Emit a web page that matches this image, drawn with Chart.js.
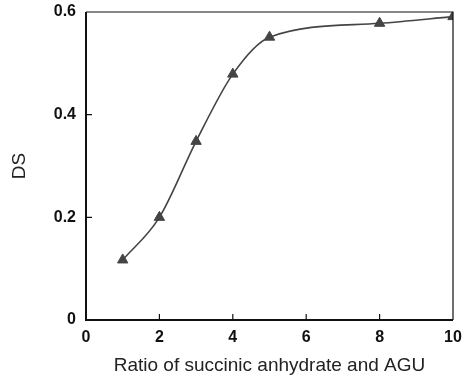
<!DOCTYPE html>
<html>
<head>
<meta charset="utf-8">
<script src="https://cdn.jsdelivr.net/npm/chart.js@4"></script>
<style>
  html, body { margin: 0; padding: 0; background: #fff; }
  #wrap { width: 467px; height: 377px; }
</style>
</head>
<body>
<div id="wrap"><canvas id="chart" width="467" height="377"></canvas></div>
<script>
// ratio of succinic anhydride to AGU vs degree of substitution
const ratios = [1, 2, 3, 4, 5, 8, 10];
const dsValues = [0.117, 0.2, 0.348, 0.479, 0.551, 0.578, 0.591];
const xTicks = [0, 2, 4, 6, 8, 10];
const yTicks = [0, 0.2, 0.4, 0.6];

const ink = '#111';
const markColor = '#444';

// frame + inward tick marks
const framePlugin = {
    id: 'frame',
    afterDraw(chart) {
        const { ctx, chartArea: a, scales } = chart;
        ctx.save();
        ctx.strokeStyle = ink;
        // top & right thin
        ctx.lineWidth = 1.2;
        ctx.beginPath();
        ctx.moveTo(a.left, a.top);
        ctx.lineTo(a.right, a.top);
        ctx.lineTo(a.right, a.bottom);
        ctx.stroke();
        // left & bottom heavier
        ctx.lineWidth = 2;
        ctx.beginPath();
        ctx.moveTo(a.left, a.top);
        ctx.lineTo(a.left, a.bottom);
        ctx.lineTo(a.right, a.bottom);
        ctx.stroke();
        // ticks pointing into the plot
        ctx.lineWidth = 1.2;
        ctx.beginPath();
        xTicks.slice(1, -1).forEach(v => {
            const px = scales.x.getPixelForValue(v);
            ctx.moveTo(px, a.bottom);
            ctx.lineTo(px, a.bottom - 6);
        });
        yTicks.slice(1, -1).forEach(v => {
            const py = scales.y.getPixelForValue(v);
            ctx.moveTo(a.left, py);
            ctx.lineTo(a.left + 6, py);
        });
        ctx.stroke();
        ctx.restore();
    }
};

const tickFont = { family: 'Liberation Sans, Arial, sans-serif', size: 16, weight: 'bold' };
const titleFont = { family: 'Liberation Sans, Arial, sans-serif', size: 19 };

new Chart(document.getElementById('chart'), {
    type: 'scatter',
    data: {
        datasets: [{
            data: ratios.map((x, i) => ({ x, y: dsValues[i] })),
            showLine: true,
            cubicInterpolationMode: 'monotone',
            borderColor: markColor,
            borderWidth: 1.6,
            pointStyle: 'triangle',
            pointRadius: 6,
            pointBackgroundColor: markColor,
            pointBorderColor: markColor,
            pointBorderWidth: 1,
        }]
    },
    options: {
        responsive: false,
        animation: false,
        layout: { padding: { top: 12, right: 14, left: 0, bottom: 0 } },
        plugins: {
            legend: { display: false },
            tooltip: { enabled: false }
        },
        scales: {
            x: {
                type: 'linear',
                min: 0,
                max: 10,
                afterBuildTicks: (s) => { s.ticks = xTicks.map(v => ({ value: v })); },
                afterFit: (s) => { s.height = 57; s.paddingLeft = 0; s.paddingRight = 0; },
                grid: { display: false, drawTicks: false },
                border: { display: false },
                ticks: { color: ink, font: tickFont, padding: 8, maxRotation: 0 },
                title: {
                    display: true,
                    text: 'Ratio of succinic anhydrate and AGU',
                    color: '#222',
                    font: titleFont,
                    padding: { top: 7, bottom: 0 }
                }
            },
            y: {
                min: 0,
                max: 0.6,
                afterBuildTicks: (s) => { s.ticks = yTicks.map(v => ({ value: v })); },
                afterFit: (s) => { s.width = 86; s.paddingTop = 0; s.paddingBottom = 0; },
                grid: { display: false, drawTicks: false },
                border: { display: false },
                ticks: {
                    color: ink,
                    font: tickFont,
                    padding: 10,
                    callback: (v) => v === 0 ? '0' : v.toFixed(1)
                },
                title: {
                    display: true,
                    text: 'DS',
                    color: '#222',
                    font: titleFont,
                    padding: { top: 8, bottom: 0 }
                }
            }
        }
    },
    plugins: [framePlugin]
});
</script>
</body>
</html>
